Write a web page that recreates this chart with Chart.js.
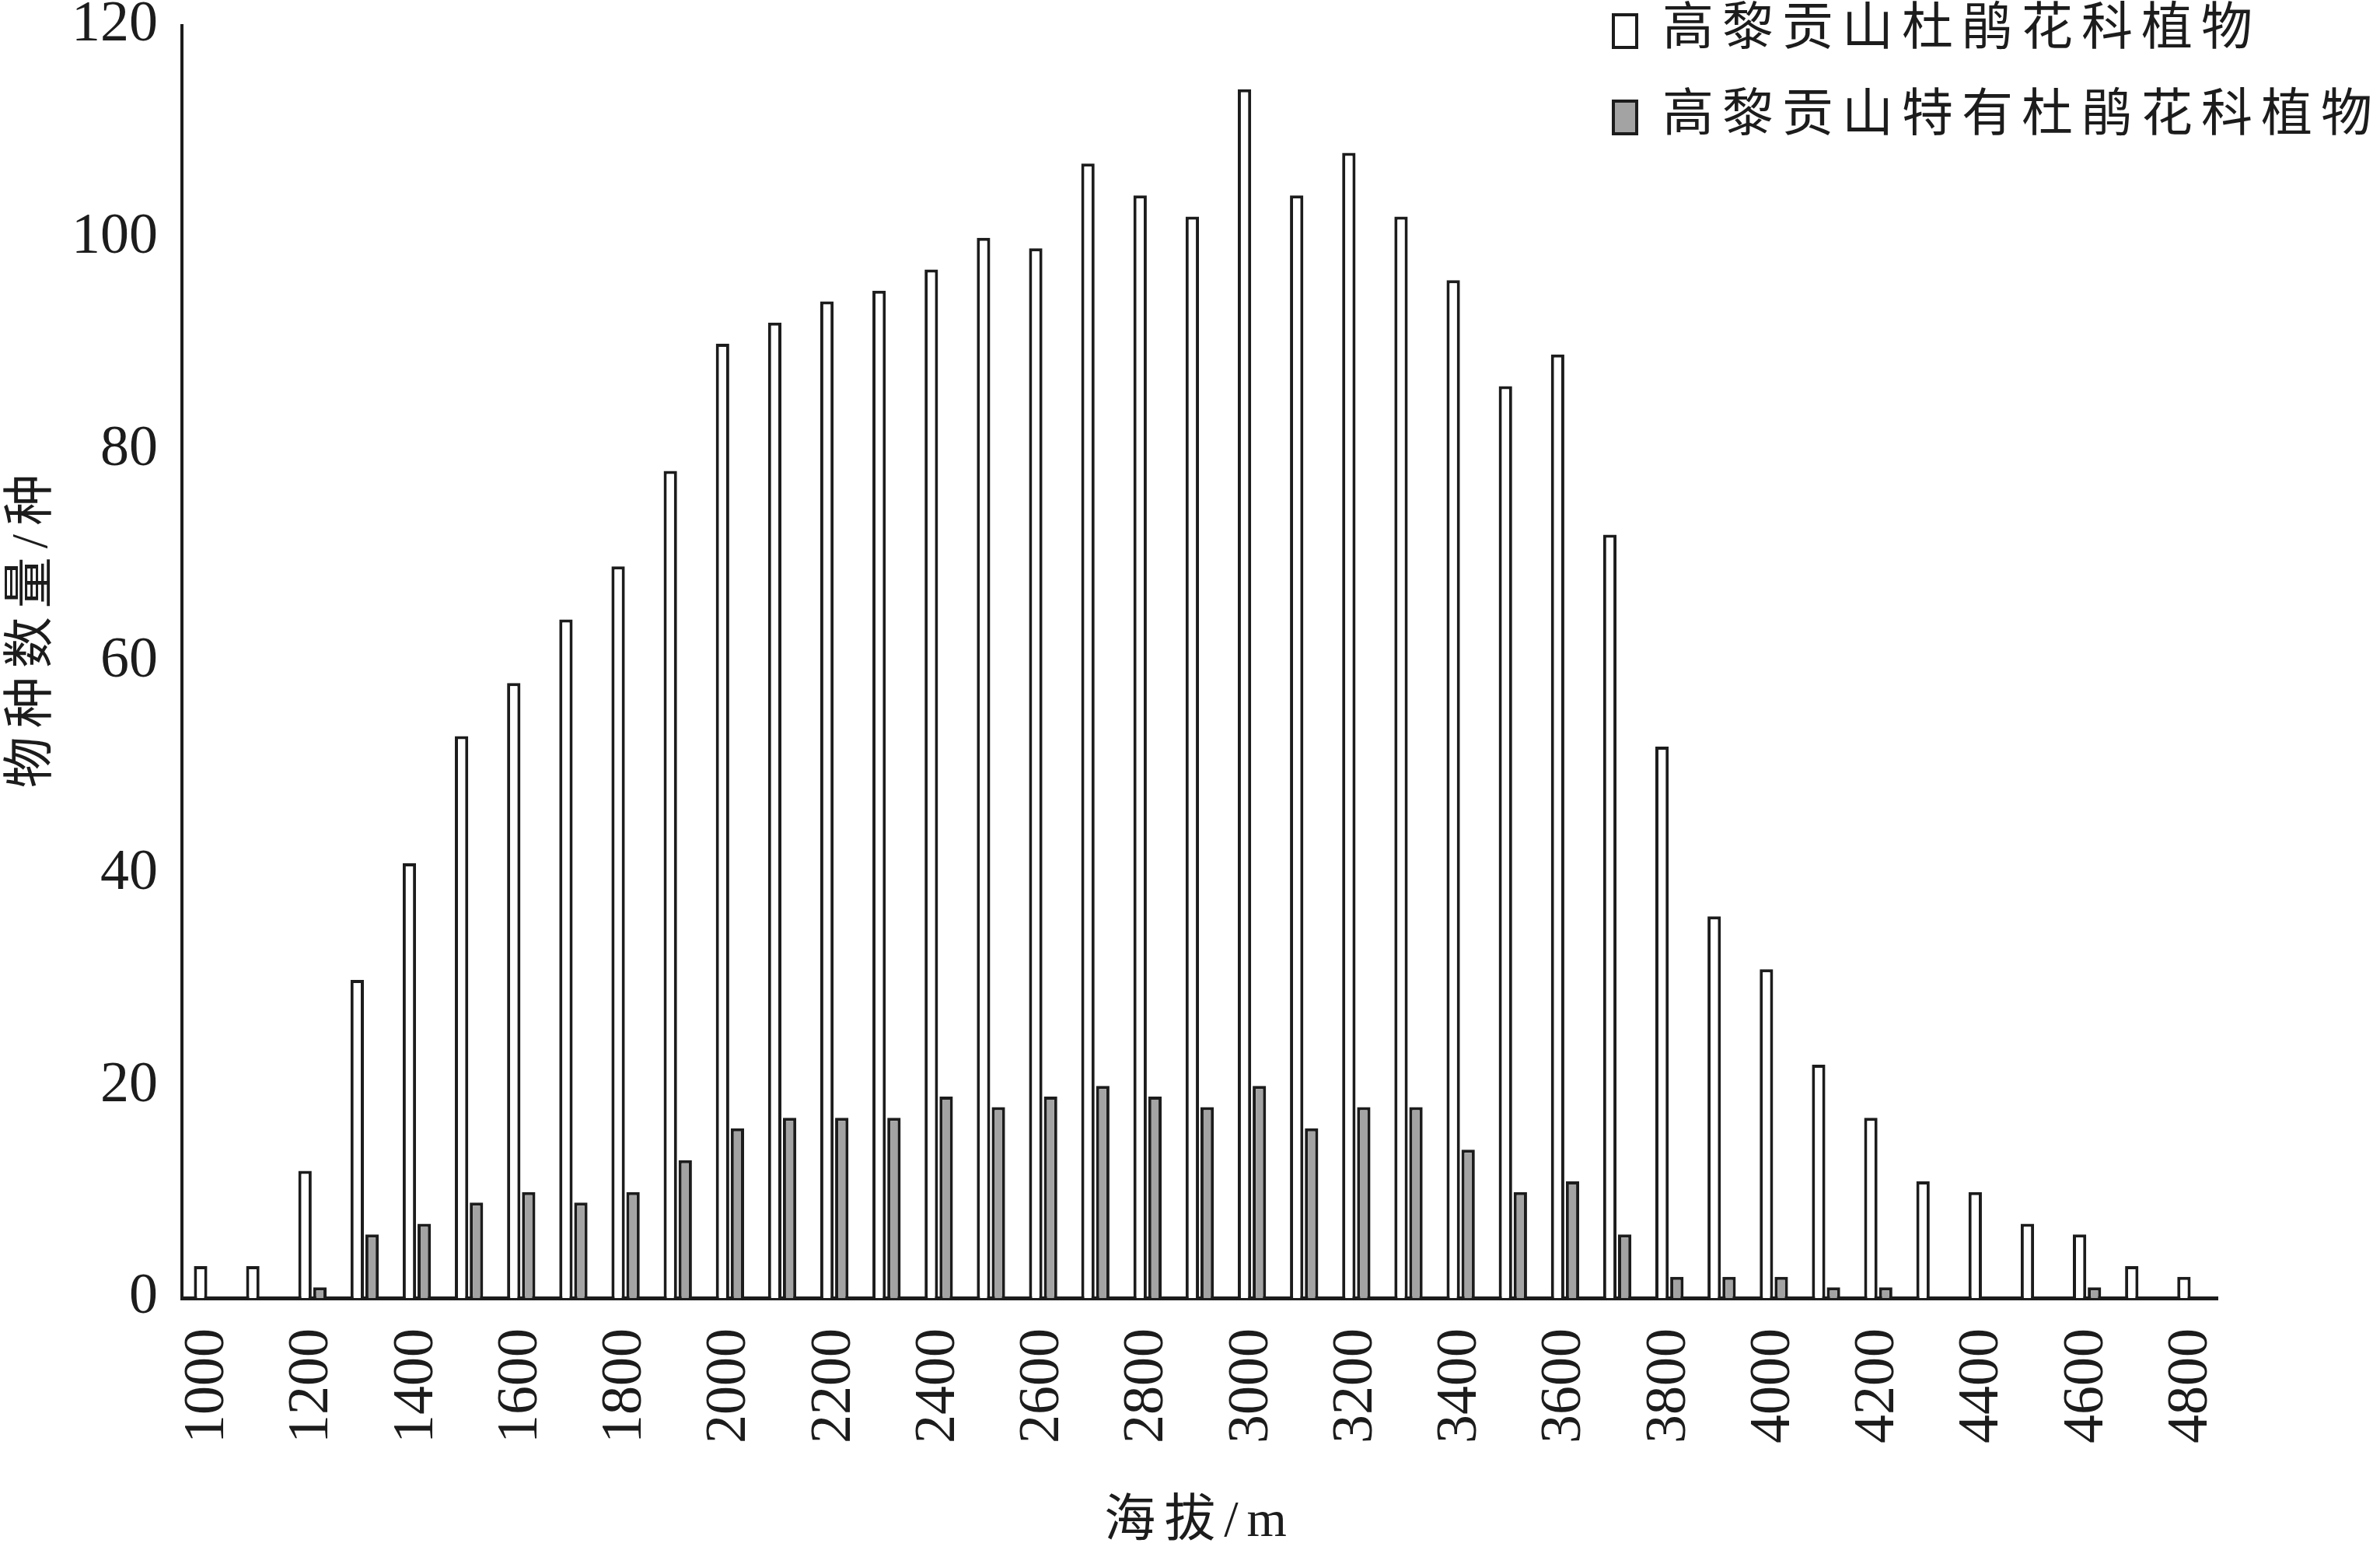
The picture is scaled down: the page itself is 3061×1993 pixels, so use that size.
<!DOCTYPE html>
<html>
<head>
<meta charset="utf-8">
<title>高黎贡山杜鹃花科植物海拔分布</title>
<script src="https://cdn.jsdelivr.net/npm/chart.js@4"></script>
<style>
  body { margin: 0; background: #fff; }
</style>
</head>
<body>
<canvas id="altChart" width="3061" height="1993"></canvas>
<script>
// Altitude classes (m)
const altitudes = ['1000', '1100', '1200', '1300', '1400', '1500', '1600', '1700', '1800', '1900',
  '2000', '2100', '2200', '2300', '2400', '2500', '2600', '2700', '2800', '2900',
  '3000', '3100', '3200', '3300', '3400', '3500', '3600', '3700', '3800', '3900',
  '4000', '4100', '4200', '4300', '4400', '4500', '4600', '4700', '4800'];

// Number of species per altitude class
const allSpecies = [3, 3, 12, 30, 41, 53, 58, 64, 69, 78,
  90, 92, 94, 95, 97, 100, 99, 107, 104, 102,
  114, 104, 108, 102, 96, 86, 89, 72, 52, 36,
  31, 22, 17, 11, 10, 7, 6, 3, 2];
const endemicSpecies = [null, null, 1, 6, 7, 9, 10, 9, 10, 13,
  16, 17, 17, 17, 19, 18, 19, 20, 19, 18,
  20, 16, 18, 18, 14, 10, 11, 6, 2, 2,
  2, 1, 1, null, null, null, 1, null, null];

const seriesNames = ['高黎贡山杜鹃花科植物', '高黎贡山特有杜鹃花科植物'];
const yTicks = [0, 20, 40, 60, 80, 100, 120];

const ink = '#1c1c1c';
const fontFamily = "'Liberation Serif', 'Noto Sans CJK SC', serif";

// draws legend and axis titles with some letter spacing, and puts the legend top right
const spacedText = {
  id: 'spacedText',
  beforeDraw(chart) {
    const wrap = (obj, name, dy) => {
      if (obj['_spaced_' + name]) return;
      const orig = Object.getPrototypeOf(obj)[name];
      obj[name] = function (...args) {
        const ctx = chart.ctx;
        ctx.save();
        ctx.letterSpacing = '11px';
        ctx.translate(0, dy);
        orig.apply(this, args);
        ctx.restore();
      };
      obj['_spaced_' + name] = true;
    };
    wrap(chart.legend, 'draw', 0);
    wrap(chart.scales.x, 'drawTitle', 0);
    wrap(chart.scales.y, 'drawTitle', -45); // title sits a bit above the middle

    const lg = chart.legend;
    lg.left = chart.width - 1031;
    lg.right = chart.width;
    lg.top = -38;
    lg.bottom = 400;
  }
};

const ctx = document.getElementById('altChart').getContext('2d');

const altChart = new Chart(ctx, {
  type: 'bar',
  data: {
    labels: altitudes,
    datasets: [{
      label: seriesNames[0],
      data: allSpecies,
      backgroundColor: '#ffffff',
      borderColor: ink,
      borderWidth: 4,
      borderSkipped: 'bottom',
      categoryPercentage: 0.57,
      barPercentage: 0.9,
    }, {
      label: seriesNames[1],
      data: endemicSpecies,
      backgroundColor: '#a3a3a3',
      borderColor: ink,
      borderWidth: 4,
      borderSkipped: 'bottom',
      categoryPercentage: 0.57,
      barPercentage: 0.9,
    }],
  },
  options: {
    responsive: false,
    animation: false,
    devicePixelRatio: 1,
    layout: {
      autoPadding: false,
      padding: { top: 33, right: 209, bottom: 0, left: 0 },
    },
    scales: {
      x: {
        grid: { display: false, drawTicks: false },
        border: { display: true, color: ink, width: 5 },
        ticks: {
          autoSkip: false,
          maxRotation: 90,
          minRotation: 90,
          padding: 39,
          color: ink,
          font: { family: fontFamily, size: 74 },
          callback: function (value, index) {
            return index % 2 === 0 ? this.getLabelForValue(value) : '';
          },
        },
        title: {
          display: true,
          text: '海拔/m',
          color: ink,
          font: { family: fontFamily, size: 66, lineHeight: 1 },
          padding: { top: 0, bottom: 2 },
        },
        afterFit: (s) => { s.height = 324; s.paddingLeft = 0; s.paddingRight = 0; },
      },
      y: {
        min: yTicks[0],
        max: yTicks[yTicks.length - 1],
        grid: { display: false, drawTicks: false },
        border: { display: true, color: ink, width: 4 },
        afterBuildTicks: (s) => { s.ticks = yTicks.map(v => ({ value: v })); },
        ticks: {
          padding: 31,
          color: ink,
          font: { family: fontFamily, size: 74 },
        },
        title: {
          display: true,
          text: '物种数量/种',
          color: ink,
          font: { family: fontFamily, size: 66, lineHeight: 1 },
          padding: { top: 10, bottom: 0 },
        },
        afterFit: (s) => { s.width = 234; s.paddingTop = 0; s.paddingBottom = 0; },
      },
    },
    plugins: {
      legend: {
        position: 'chartArea',
        align: 'start',
        labels: {
          boxWidth: 30,
          boxHeight: 42,
          padding: 45,
          color: ink,
          font: { family: fontFamily, size: 66 },
        },
      },
      tooltip: { enabled: false },
    },
  },
  plugins: [spacedText],
});
</script>
</body>
</html>
